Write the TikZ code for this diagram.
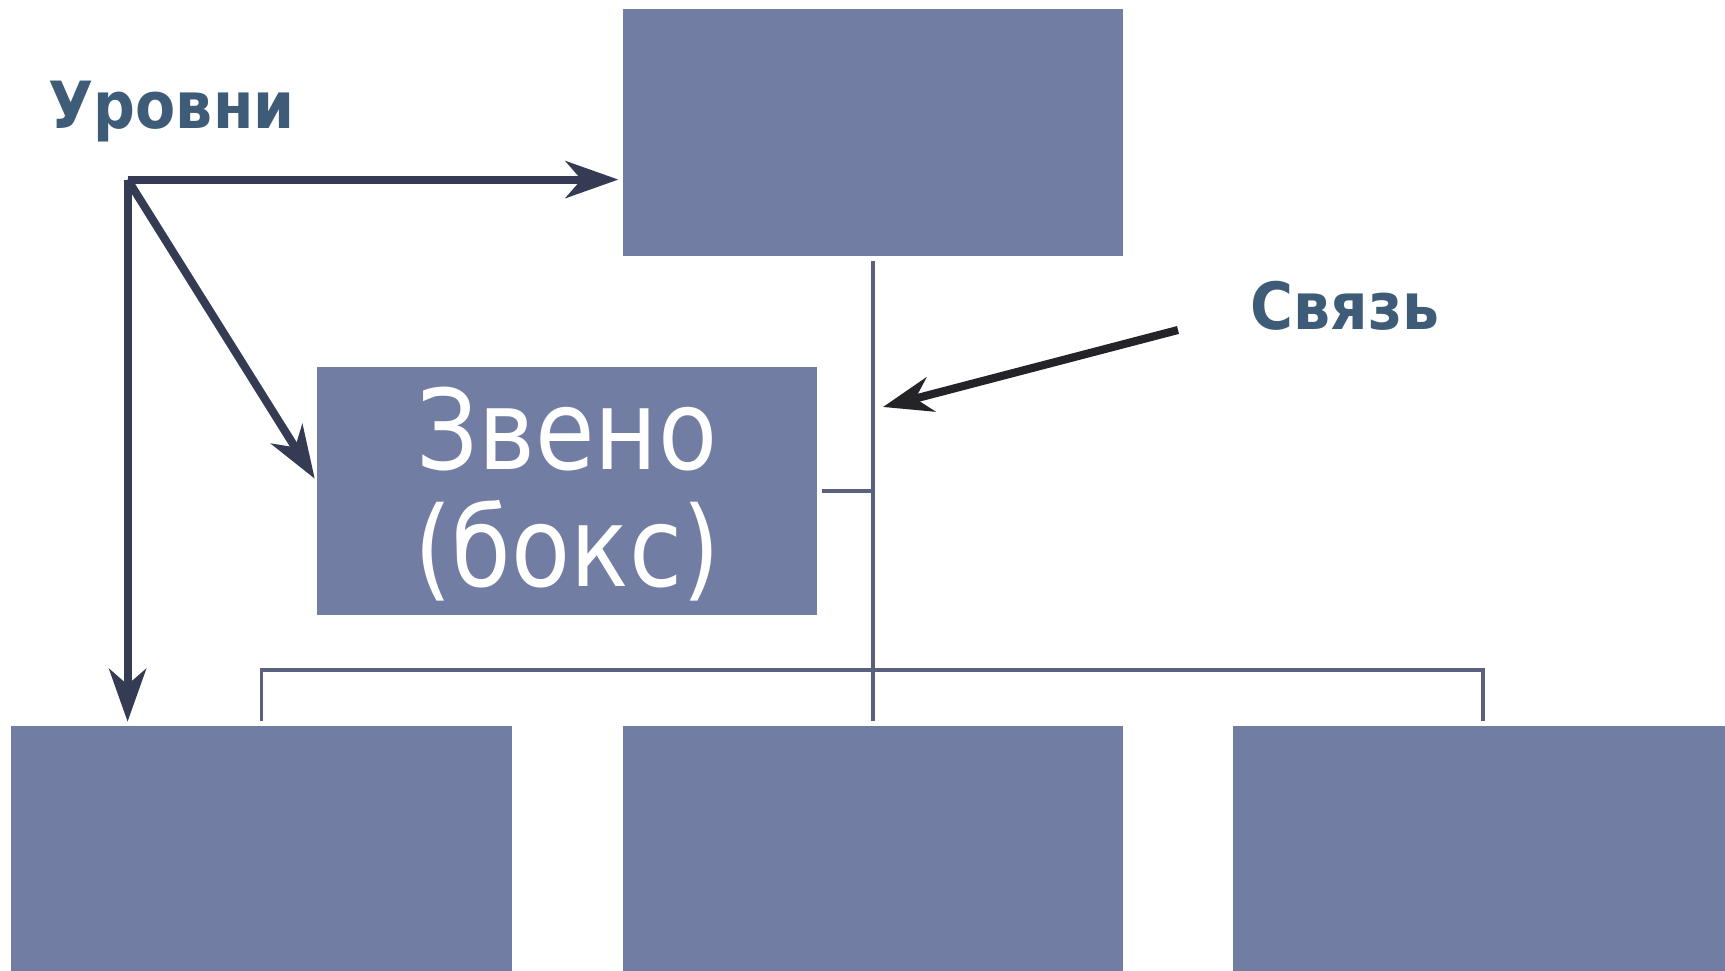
\documentclass[tikz,border=0pt]{standalone}
\usepackage{fontspec}
\usetikzlibrary{arrows.meta}
\newfontfamily\lblfont{DejaVu Sans}[FakeStretch=0.9]
\newfontfamily\boxfont{DejaVu Sans}[FakeStretch=0.87]
\definecolor{boxfill}{HTML}{717DA2}
\definecolor{arrowc}{HTML}{363B54}
\definecolor{blackarrow}{HTML}{232328}
\definecolor{titlec}{HTML}{3E5C78}
\definecolor{connc}{HTML}{59617F}
\begin{document}
\begin{tikzpicture}[x=0.01cm,y=-0.01cm,
  box/.style={rectangle, fill=boxfill, draw=none, minimum width=5.006cm, minimum height=2.475cm, inner sep=0pt},
  title/.style={text=titlec, font=\lblfont\bfseries\fontsize{18.5}{22}\selectfont, inner sep=0pt},
  arr/.style={draw=arrowc, line width=2.3pt, -{Stealth[length=15pt,width=10.5pt,inset=4.5pt]}},
  barr/.style={draw=blackarrow, line width=2.3pt, -{Stealth[length=14pt,width=10pt,inset=4.5pt]}},
  conn/.style={draw=connc, line width=1pt}]
\useasboundingbox (0,0) rectangle (1725,971);
\clip (0,0) rectangle (1725,971);
\node[box] (top) at (873,132.5) {};
\node[box] (zv) at (567,491) {};
\node[text=white, align=center, inner sep=0pt, font=\boxfont\fontsize{31.6}{33.2}\selectfont] (zvtext) at (567,494) {Звено\\(бокс)};
\node[box] (bl) at (261.3,849.75) {};
\node[box] (bm) at (873,849.75) {};
\node[box] (br) at (1483,849.75) {};
\node[title, anchor=base west] (lv) at (48,129) {Уровни};
\node[title, anchor=base west] (sv) at (1250,330) {Связь};
\coordinate (o) at (127.6,179.6);
\coordinate (bus) at (0,670);
\coordinate (s) at (1178,330);
\coordinate (t) at (883,407);
% tree connectors
\draw[conn] ([yshift=-1.2pt]top.south) -- ([yshift=1.2pt]bm.north);
\draw[conn] ([xshift=1.2pt]zv.east) -- (zv.east -| top.south);
\draw[conn] ([yshift=1.2pt]bl.north) -- (bl.north |- bus) -- (br.north |- bus) -- ([yshift=1.2pt]br.north);
% level arrows
\draw[arr, shorten >=1pt] (o) -- (top.west |- o);
\draw[arr, shorten >=0.6pt] (o) -- ([yshift=3pt]zv.west);
\draw[arr, shorten >=1pt] (o) -- (o |- bl.north);
% link arrow
\draw[barr] (s) -- (t);
\end{tikzpicture}
\end{document}
